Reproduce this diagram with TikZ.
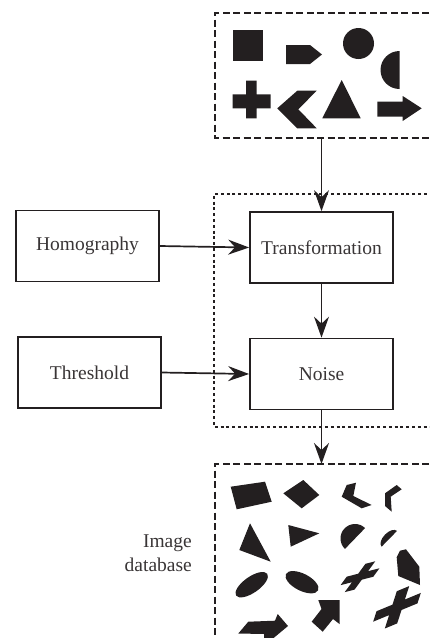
\documentclass[tikz,border=0pt]{standalone}
\usepackage{fontspec}
\setmainfont{Liberation Serif}
\usetikzlibrary{arrows.meta}
\definecolor{ink}{RGB}{35,31,32}
\tikzset{
  procbox/.style={draw=ink, line width=1.7pt, minimum width=143pt, minimum height=71pt, inner sep=0pt, text=ink!90, font=\fontsize{19.5}{23}\selectfont},
  arr/.style={draw=ink, line width=1.7pt, -{Stealth[length=21pt,width=15pt,inset=7pt]}},
  dashbox/.style={draw=ink, line width=1.6pt, dash pattern=on 7pt off 3.5pt},
  dotbox/.style={draw=ink, line width=1.6pt, dash pattern=on 3pt off 2.8pt},
  blob/.style={fill=ink}
}
\begin{document}
\begin{tikzpicture}[x=1pt,y=1pt]
\useasboundingbox (0,0) rectangle (429,-638);
\clip (0,0) rectangle (429,-638);
% containers
\draw[dashbox] (450,-13) -- (215,-13) -- (215,-138) -- (450,-138);
\draw[dotbox] (450,-194) -- (214,-194) -- (214,-427) -- (450,-427);
\draw[dashbox] (450,-464) -- (215,-464) -- (215,-660);
% top shapes
\fill[blob] (233,-30) rectangle (263,-61);
\fill[blob] (286,-45) -- (310,-45) -- (322,-54.5) -- (310,-64) -- (286,-64) -- cycle;
\fill[blob] (358.5,-43.5) circle (15.5);
\fill[blob] (399.5,-51) arc (90:270:19) -- cycle;
\fill[blob] (246,-80.7) -- (256.7,-80.7) -- (256.7,-94.3) -- (270.7,-94.3) -- (270.7,-108.3) -- (256.7,-108.3) -- (256.7,-118.3) -- (246,-118.3) -- (246,-108.3) -- (232.7,-108.3) -- (232.7,-94.3) -- (246,-94.3) -- cycle;
\fill[blob] (277.3,-108.3) -- (297.3,-90.7) -- (316.7,-90.7) -- (298.3,-109.3) -- (316.7,-128.3) -- (297.3,-128.3) -- cycle;
\fill[blob] (341.7,-80) -- (360.7,-118.3) -- (322.3,-118.3) -- cycle;
\fill[blob] (377.3,-101.7) -- (402.7,-101.7) -- (402.7,-96) -- (421.7,-108.3) -- (402.7,-121) -- (402.7,-116.7) -- (377.3,-116.7) -- cycle;
% nodes
\node[procbox] (hom) at (87.5,-246) {Homography};
\node[procbox] (thr) at (89.5,-372.5) {Threshold};
\node[procbox] (trans) at (321.5,-247.5) {Transformation};
\node[procbox] (noise) at (321.5,-374) {Noise};
\coordinate (tb) at (321.5,-138);
\coordinate (bb) at (321.5,-464);
\draw[arr] (tb) -- (trans.north);
\draw[arr] (trans.south) -- (noise.north);
\draw[arr] (noise.south) -- (bb);
\draw[arr] (hom.east) -- (trans.west);
\draw[arr] (thr.east) -- (noise.west);
% label
\node[align=right, anchor=east, inner sep=0pt, text=ink!90, font=\fontsize{19.5}{24.5}\selectfont] (lbl) at (192,-553) {Image\\database};
% bottom shapes
\fill[blob] (230.7,-486.7) -- (265,-481.7) -- (271.7,-501.7) -- (236.7,-509.3) -- cycle;
\fill[blob] (283.3,-493.3) -- (303.3,-480) -- (319.3,-495) -- (301.7,-508.3) -- cycle;
\fill[blob] (346.7,-485) -- (356,-482.7) -- (353.3,-496) -- (371.7,-505) -- (361.7,-508.3) -- (341.7,-496.7) -- cycle;
\fill[blob] (385,-493.3) -- (396.7,-485) -- (401.7,-489.3) -- (390.7,-496.7) -- (391.7,-511.7) -- (385,-506) -- cycle;
\fill[blob] (250,-523.3) -- (270.7,-561.7) -- (239.3,-550) -- cycle;
\fill[blob] (288.3,-525) -- (319.3,-533.3) -- (290.7,-546.7) -- cycle;
\fill[blob, rotate around={46:(355,-538.5)}] (369.5,-538.5) arc (0:180:14.5) -- cycle;
\fill[blob, rotate around={45.7:(389.3,-538.8)}] (400.3,-538.8) arc (0:180:11 and 6) -- cycle;
\fill[blob] (400,-550.7) -- (406,-549.3) -- (419.3,-566.7) -- (420,-585) -- (398.3,-576) -- (396.7,-557.3) -- cycle;
\fill[blob, rotate around={35:(251.7,-584.7)}] (251.7,-584.7) ellipse (19 and 8);
\fill[blob, rotate around={-27:(302,-582.2)}] (302,-582.2) ellipse (18 and 8.5);
% slanted plus 1
\fill[blob, cm={16.35,4.2,10.35,14.15,(360,-576.7)}]
  (-1,-0.3) -- (-0.3,-0.3) -- (-0.3,-1) -- (0.3,-1) -- (0.3,-0.3) -- (1,-0.3) -- (1,0.3) -- (0.3,0.3) -- (0.3,1) -- (-0.3,1) -- (-0.3,0.3) -- (-1,0.3) -- cycle;
% slanted plus 2
\fill[blob, cm={22.15,9.15,6,18.65,(397,-607.3)}]
  (-1,-0.28) -- (-0.28,-0.28) -- (-0.28,-1) -- (0.28,-1) -- (0.28,-0.28) -- (1,-0.28) -- (1,0.28) -- (0.28,0.28) -- (0.28,1) -- (-0.28,1) -- (-0.28,0.28) -- (-1,0.28) -- cycle;
% diagonal arrow
\fill[blob] (339.5,-600) -- (339.5,-624) -- (333,-619) -- (322.7,-631.7) -- (311.7,-621.7) -- (321.5,-609) -- (318.3,-600) -- cycle;
% bottom-left arrow
\fill[blob] (238.3,-633.5) -- (248.3,-621.7) -- (275,-620.7) -- (277.7,-614) -- (288,-626) -- (264,-646) -- (264,-634) -- cycle;
\end{tikzpicture}
\end{document}
